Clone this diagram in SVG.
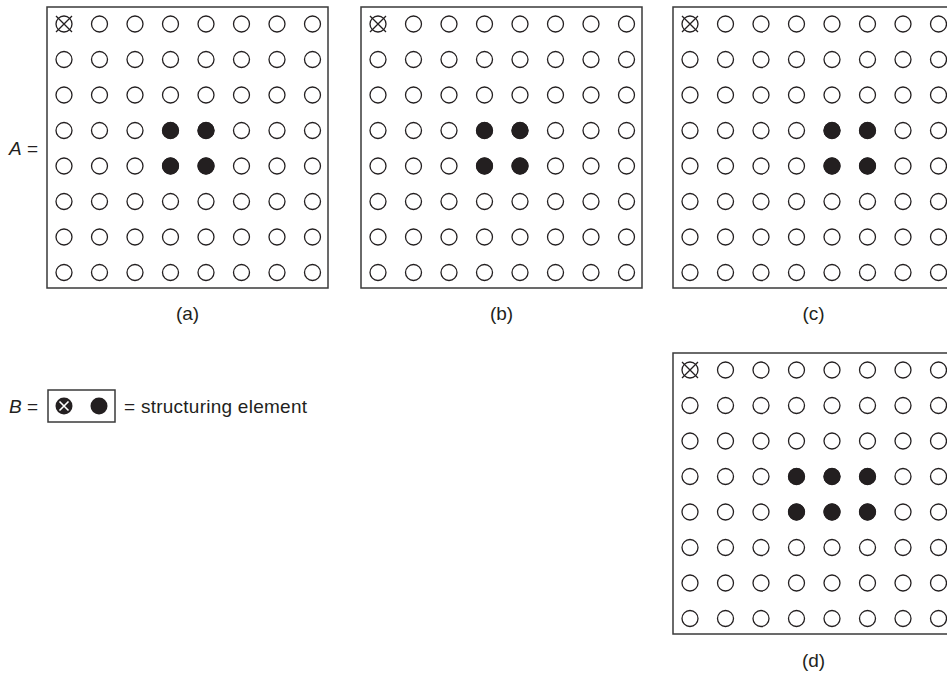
<svg xmlns="http://www.w3.org/2000/svg" xmlns:xlink="http://www.w3.org/1999/xlink" width="947" height="673" viewBox="0 0 947 673">
<style>
  .o { fill: #ffffff; stroke: #231f20; stroke-width: 1.3; }
  .f { fill: #231f20; stroke: none; }
  .x { stroke: #231f20; stroke-width: 1.3; fill: none; }
  .xw { stroke: #ffffff; stroke-width: 1.6; fill: none; }
  .box { fill: none; stroke: #3a3a3a; stroke-width: 1.5; }
  text { font-family: "Liberation Sans", Arial, sans-serif; font-size: 19px; fill: #231f20; }
  .lbl { text-anchor: middle; }
</style>
<defs>
  <g id="row">
    <circle class="o" cx="0" cy="0" r="8"/>
    <circle class="o" cx="35.5" cy="0" r="8"/>
    <circle class="o" cx="71" cy="0" r="8"/>
    <circle class="o" cx="106.5" cy="0" r="8"/>
    <circle class="o" cx="142" cy="0" r="8"/>
    <circle class="o" cx="177.5" cy="0" r="8"/>
    <circle class="o" cx="213" cy="0" r="8"/>
    <circle class="o" cx="248.5" cy="0" r="8"/>
  </g>
  <g id="grid">
    <rect class="box" x="-17" y="-17" width="281" height="281" fill="#fff"/>
    <use xlink:href="#row" href="#row" y="0"/>
    <use xlink:href="#row" href="#row" y="35.5"/>
    <use xlink:href="#row" href="#row" y="71"/>
    <use xlink:href="#row" href="#row" y="106.5"/>
    <use xlink:href="#row" href="#row" y="142"/>
    <use xlink:href="#row" href="#row" y="177.5"/>
    <use xlink:href="#row" href="#row" y="213"/>
    <use xlink:href="#row" href="#row" y="248.5"/>
    <path class="x" d="M-8,-8 L8,8 M8,-8 L-8,8"/>
  </g>
</defs>

<g id="connectors"/>

<g id="panel-a" transform="translate(64,24)">
  <use xlink:href="#grid" href="#grid"/>
  <circle class="f" cx="106.5" cy="106.5" r="8.5"/>
  <circle class="f" cx="142" cy="106.5" r="8.5"/>
  <circle class="f" cx="106.5" cy="142" r="8.5"/>
  <circle class="f" cx="142" cy="142" r="8.5"/>
</g>
<g id="label-A">
  <text x="9" y="155"><tspan font-style="italic">A</tspan> =</text>
</g>
<text id="caption-a" class="lbl" x="187.5" y="320">(a)</text>

<g id="panel-b" transform="translate(378,24)">
  <use xlink:href="#grid" href="#grid"/>
  <circle class="f" cx="106.5" cy="106.5" r="8.5"/>
  <circle class="f" cx="142" cy="106.5" r="8.5"/>
  <circle class="f" cx="106.5" cy="142" r="8.5"/>
  <circle class="f" cx="142" cy="142" r="8.5"/>
</g>
<text id="caption-b" class="lbl" x="501.5" y="320">(b)</text>

<g id="panel-c" transform="translate(690,24)">
  <use xlink:href="#grid" href="#grid"/>
  <circle class="f" cx="142" cy="106.5" r="8.5"/>
  <circle class="f" cx="177.5" cy="106.5" r="8.5"/>
  <circle class="f" cx="142" cy="142" r="8.5"/>
  <circle class="f" cx="177.5" cy="142" r="8.5"/>
</g>
<text id="caption-c" class="lbl" x="813.5" y="320">(c)</text>

<g id="panel-d" transform="translate(690,370)">
  <use xlink:href="#grid" href="#grid"/>
  <circle class="f" cx="106.5" cy="106.5" r="8.5"/>
  <circle class="f" cx="142" cy="106.5" r="8.5"/>
  <circle class="f" cx="177.5" cy="106.5" r="8.5"/>
  <circle class="f" cx="106.5" cy="142" r="8.5"/>
  <circle class="f" cx="142" cy="142" r="8.5"/>
  <circle class="f" cx="177.5" cy="142" r="8.5"/>
</g>
<text id="caption-d" class="lbl" x="813.5" y="667">(d)</text>

<g id="structuring-element">
  <text x="9" y="413"><tspan font-style="italic">B</tspan> =</text>
  <rect class="box" x="48" y="390" width="67" height="32"/>
  <circle class="f" cx="64" cy="406" r="8.5"/>
  <path class="xw" d="M59.5,401.5 L68.5,410.5 M68.5,401.5 L59.5,410.5"/>
  <circle class="f" cx="99" cy="406" r="8.5"/>
  <text x="124" y="413" textLength="183">= structuring element</text>
</g>
</svg>
